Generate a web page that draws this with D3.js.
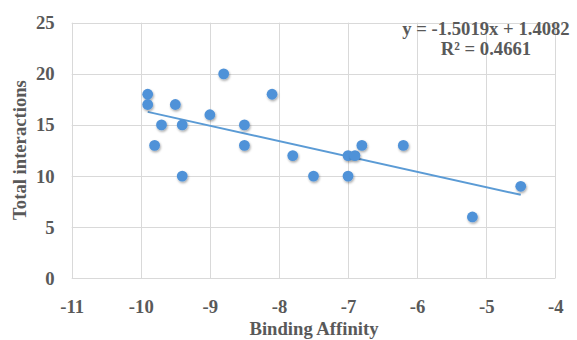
<!DOCTYPE html>
<html>
<head>
<meta charset="utf-8">
<script src="https://cdn.jsdelivr.net/npm/d3@7"></script>
<style>
  html, body { margin: 0; padding: 0; background: #fff; }
  svg { display: block; }
  text { font-family: "Liberation Serif", "Times New Roman", serif; font-weight: bold; fill: #595959; }
</style>
</head>
<body>
<svg id="chart" width="577" height="340"></svg>
<script>
// Data
const bindingAffinity = [-9.9, -9.9, -9.8, -9.7, -9.5, -9.4, -9.4, -9.0, -8.8, -8.5, -8.5, -8.1, -7.8, -7.5, -7.0, -7.0, -6.9, -6.8, -6.2, -5.2, -4.5];
const totalInteractions = [18, 17, 13, 15, 17, 15, 10, 16, 20, 15, 13, 18, 12, 10, 12, 10, 12, 13, 13, 6, 9];
const xTicks = [-11, -10, -9, -8, -7, -6, -5, -4];
const yTicks = [0, 5, 10, 15, 20, 25];
const trendSlope = -1.5019;
const trendIntercept = 1.4082;
const equationLines = ["y = -1.5019x + 1.4082", "R² = 0.4661"];
const xTitle = "Binding Affinity";
const yTitle = "Total interactions";

const svg = d3.select("#chart");
const plot = { left: 71.7, right: 555.3, top: 22.7, bottom: 278.3 };
const fontSize = 18.67;

const x = d3.scaleLinear().domain([-11, -4]).range([plot.left, plot.right]);
const y = d3.scaleLinear().domain([0, 25]).range([plot.bottom, plot.top]);

const defs = svg.append("defs");
const f = defs.append("filter").attr("id", "shadow").attr("x", "-50%").attr("y", "-50%").attr("width", "200%").attr("height", "200%");
f.append("feDropShadow").attr("dx", 0.8).attr("dy", 1.5).attr("stdDeviation", 1.1).attr("flood-color", "#000").attr("flood-opacity", 0.35);

// Gridlines
const grid = svg.append("g");
grid.selectAll("line.h").data(yTicks).join("line")
  .attr("x1", plot.left).attr("x2", plot.right)
  .attr("y1", d => Math.round(y(d)) + 0.5).attr("y2", d => Math.round(y(d)) + 0.5)
  .attr("stroke", "#d9d9d9").attr("stroke-width", 1);
grid.selectAll("line.v").data(xTicks).join("line")
  .attr("x1", d => Math.round(x(d)) + 0.5).attr("x2", d => Math.round(x(d)) + 0.5)
  .attr("y1", plot.top).attr("y2", plot.bottom)
  .attr("stroke", "#d9d9d9").attr("stroke-width", 1);

const fmt = d => String(d);

// Axes (labels only, via d3 axes)
const xAxis = svg.append("g").attr("transform", `translate(0,${plot.bottom})`)
  .call(d3.axisBottom(x).tickValues(xTicks).tickSize(0).tickPadding(21).tickFormat(fmt));
xAxis.select(".domain").remove();
xAxis.selectAll("text").style("font-size", fontSize + "px").attr("fill", "#595959")
  .style("font-family", '"Liberation Serif", serif').style("font-weight", "bold");

const yAxis = svg.append("g").attr("transform", `translate(${plot.left},0)`)
  .call(d3.axisLeft(y).tickValues(yTicks).tickSize(0).tickPadding(17).tickFormat(fmt));
yAxis.select(".domain").remove();
yAxis.selectAll("text").style("font-size", fontSize + "px").attr("fill", "#595959")
  .style("font-family", '"Liberation Serif", serif').style("font-weight", "bold");

// Axis titles
svg.append("text").attr("x", 314).attr("y", 335).attr("text-anchor", "middle")
  .style("font-size", fontSize + "px").text(xTitle);
svg.append("text").attr("transform", "translate(26,150) rotate(-90)").attr("text-anchor", "middle")
  .style("font-size", fontSize + "px").text(yTitle);

// Trendline
const xMin = d3.min(bindingAffinity), xMax = d3.max(bindingAffinity);
svg.append("line")
  .attr("x1", x(xMin)).attr("y1", y(trendSlope * xMin + trendIntercept))
  .attr("x2", x(xMax)).attr("y2", y(trendSlope * xMax + trendIntercept))
  .attr("stroke", "#5B9BD5").attr("stroke-width", 2);

// Points
svg.append("g").selectAll("circle")
  .data(bindingAffinity.map((v, i) => [v, totalInteractions[i]]))
  .join("circle")
  .attr("cx", d => x(d[0])).attr("cy", d => y(d[1])).attr("r", 5.4)
  .attr("fill", "#4f92d8").attr("filter", "url(#shadow)");

// Equation label
const eq = svg.append("text").attr("text-anchor", "middle").style("font-size", fontSize + "px");
eq.selectAll("tspan").data(equationLines).join("tspan")
  .attr("x", 486).attr("y", (d, i) => 35 + i * 20).text(d => d);
</script>
</body>
</html>
